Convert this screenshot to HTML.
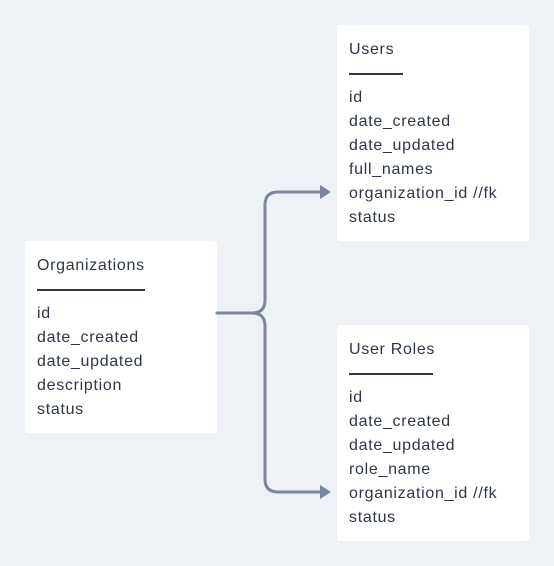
<!DOCTYPE html>
<html><head><style>
body{margin:0;width:554px;height:566px;background:#eef2f6;position:relative;overflow:hidden;font-family:"Liberation Sans",sans-serif;}
.b{position:absolute;background:#fff;border-radius:3px;width:192px;box-sizing:border-box;padding:13px 12px;color:#2d3748;font-size:16px;line-height:24px;white-space:pre;letter-spacing:0.7px;}
.d{display:block;height:24px;position:relative}
.d i{position:absolute;left:0;top:11px;height:2px;background:#2d3748}
</style></head><body>
<div class="b" style="left:25px;top:241px;height:192px">Organizations<span class="d"><i style="width:108px"></i></span>id
date_created
date_updated
description
status</div>
<div class="b" style="left:337px;top:25px;height:216px">Users<span class="d"><i style="width:50px"></i><i style="left:50px;width:4px;top:11px"></i></span>id
date_created
date_updated
full_names
organization_id //fk
status</div>
<div class="b" style="left:337px;top:325px;height:216px">User Roles<span class="d"><i style="width:84px"></i></span>id
date_created
date_updated
role_name
organization_id //fk
status</div>
<svg width="554" height="566" style="position:absolute;left:0;top:0">
<g fill="none" stroke="#7a8699" stroke-width="3" stroke-linecap="round">
<path d="M217 313 H252 Q265 313 265 300 V205 Q265 192 278 192 H322"/>
<path d="M252 313 Q265 313 265 326 V479 Q265 492 278 492 H322"/>
</g>
<path d="M320 185 L331 192 L320 199 Z" fill="#7a8699"/>
<path d="M320 485 L331 492 L320 499 Z" fill="#7a8699"/>
</svg>
</body></html>
